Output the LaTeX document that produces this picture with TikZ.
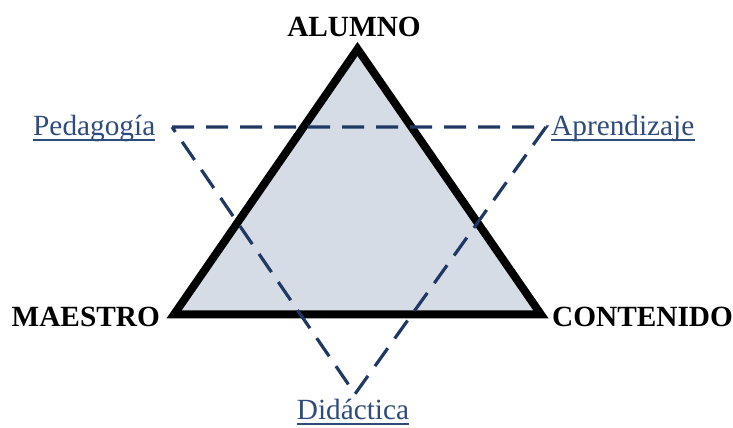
\documentclass[tikz,border=0pt]{standalone}
\usepackage{fontspec}
\setmainfont{Liberation Serif}
\definecolor{navy}{HTML}{203864}
\definecolor{navytext}{HTML}{2F4B7C}
\definecolor{fillgray}{HTML}{D6DCE5}
\begin{document}
\begin{tikzpicture}[x=1pt,y=1pt,
  vert/.style={font=\fontsize{29.3}{31}\selectfont\bfseries, inner sep=0pt},
  rel/.style={font=\fontsize{29.3}{31}\selectfont, text=navytext, inner sep=0pt},
  uline/.style={navytext, line width=1.5pt},
  dashtri/.style={navy, line width=3.2pt, dash pattern=on 22pt off 12pt},
  soltri/.style={black, line width=8pt, line join=miter, fill=fillgray}]
\useasboundingbox (0,0) rectangle (733,428);
% solid triangle
\coordinate (tA) at (357.5,379);
\coordinate (tM) at (174,113.5);
\coordinate (tC) at (541,113.5);
\draw[soltri] (tM) -- (tA) -- (tC) -- cycle;
% dashed triangle
\coordinate (dP) at (172,301);
\coordinate (dR) at (546,301);
\coordinate (dD) at (355,34);
\draw[dashtri] (dP) -- (dR) -- (dD) -- cycle;
% labels
\node[vert, anchor=base] (alumno) at (354,391) {ALUMNO};
\node[vert, anchor=base east] (maestro) at (160,101) {MAESTRO};
\node[vert, anchor=base west] (contenido) at (552,101) {CONTENIDO};
\node[rel, anchor=base west] (ped) at (33,292) {Pedagogía};
\node[rel, anchor=base west] (apr) at (551,292) {Aprendizaje};
\node[rel, anchor=base] (did) at (353,8) {Didáctica};
\draw[uline] ([yshift=-4pt]ped.base west) -- ([yshift=-4pt]ped.base east);
\draw[uline] ([yshift=-4pt]apr.base west) -- ([yshift=-4pt]apr.base east);
\draw[uline] ([yshift=-4pt]did.base west) -- ([yshift=-4pt]did.base east);
\end{tikzpicture}
\end{document}
